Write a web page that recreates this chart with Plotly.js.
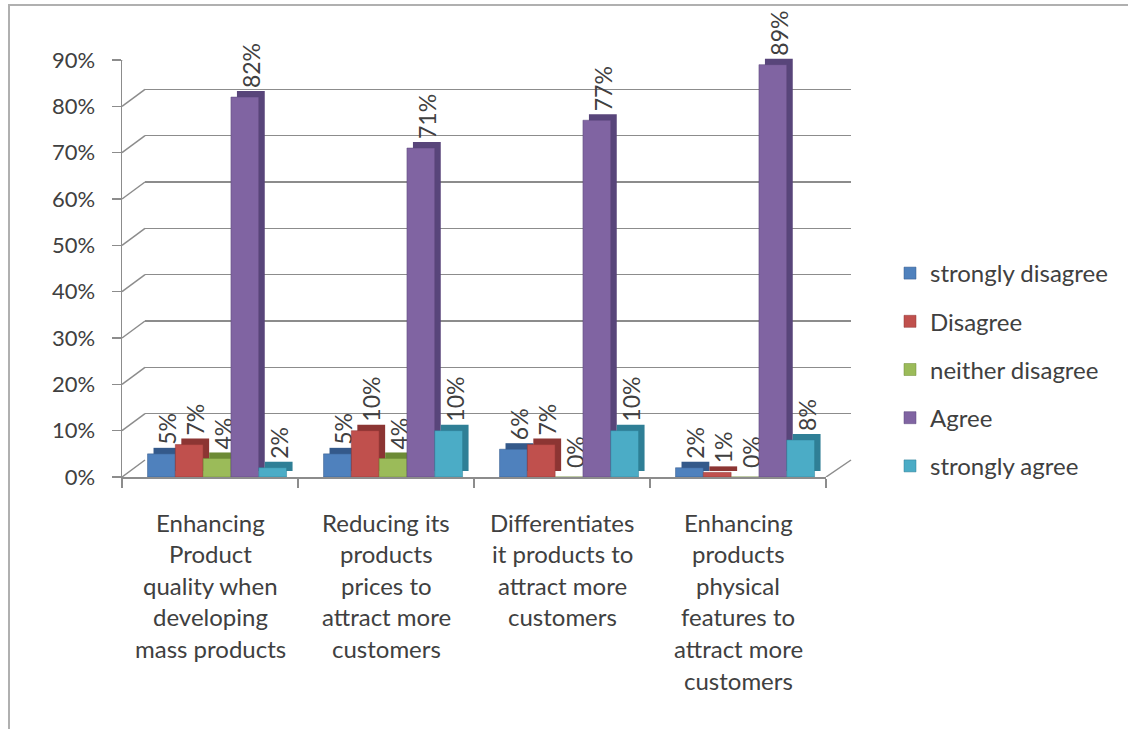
<!DOCTYPE html>
<html>
<head>
<meta charset="utf-8">
<script src="https://cdn.plot.ly/plotly-3.0.1.min.js"></script>
<style>
  html, body { margin:0; padding:0; width:1128px; height:729px; overflow:hidden; background:#fff; }
  #frame { position:absolute; left:8px; top:4px; width:1300px; height:900px; border-left:2px solid #b0b0b0; border-top:2px solid #b0b0b0; box-sizing:border-box; }
  #chart { position:absolute; left:0; top:0; width:1128px; height:729px; }
</style>
</head>
<body>
<div id="frame"></div>
<div id="chart"></div>
<script>
// ---- data ----
const categories = [
  "Enhancing<br>Product<br>quality when<br>developing<br>mass products",
  "Reducing its<br>products<br>prices to<br>attract more<br>customers",
  "Differentiates<br>it products to<br>attract more<br>customers",
  "Enhancing<br>products<br>physical<br>features to<br>attract more<br>customers"
];
const seriesNames = ["strongly disagree", "Disagree", "neither disagree", "Agree", "strongly agree"];
const stronglyDisagree = [0.05, 0.05, 0.06, 0.02];
const disagree         = [0.07, 0.10, 0.07, 0.01];
const neitherDisagree  = [0.04, 0.04, 0.00, 0.00];
const agree            = [0.82, 0.71, 0.77, 0.89];
const stronglyAgree    = [0.02, 0.10, 0.10, 0.08];
const yTicks = [0, 0.1, 0.2, 0.3, 0.4, 0.5, 0.6, 0.7, 0.8, 0.9];

// ---- styling ----
const colors = ["#4F81BD", "#C0504D", "#9BBB59", "#8064A2", "#4BACC6"];
const sides  = ["#34598A", "#8C3533", "#6C8A35", "#58457A", "#2F7F96"];
const FONT = "Lato, 'Open Sans', sans-serif";
const TXT = "#404040";
const GRID = "#8c8c8c";

const W = 1128, H = 729;
const plotL = 122, plotR = 851, plotT = 43, plotB = 477;
const pw = plotR - plotL, ph = plotB - plotT;
const depthX = 23, depthY = 17;
const barDepth = 6;
const frontXEnd = (pw - (plotR - 826)) / pw;
const frontYEnd = (plotB - 60) / ph;
const groupLeftPad = 0.145, barW = 0.158;

const idx = categories.map((c, i) => i);
const allSeries = [stronglyDisagree, disagree, neitherDisagree, agree, stronglyAgree];

const traces = [];
// back wall grid carrier (empty)
traces.push({ x: [], y: [], type: 'scatter', mode: 'markers', xaxis: 'x', yaxis: 'y', showlegend: false, hoverinfo: 'skip' });
// 3D depth faces (behind) carrying the value labels
allSeries.forEach((vals, k) => {
  traces.push({
    type: 'bar', x: idx, y: vals, xaxis: 'x2', yaxis: 'y2',
    width: barW, offset: -0.5 + groupLeftPad + k * barW,
    marker: { color: sides[k], line: { width: 0 } },
    texttemplate: '%{y:.0%}',
    textposition: 'outside',
    textangle: -90,
    constraintext: 'none',
    cliponaxis: false,
    textfont: { family: FONT, size: 23, color: TXT },
    showlegend: false, hoverinfo: 'skip'
  });
});
// front faces
allSeries.forEach((vals, k) => {
  traces.push({
    type: 'bar',
    name: seriesNames[k],
    x: idx, y: vals,
    xaxis: 'x3', yaxis: 'y3',
    width: barW, offset: -0.5 + groupLeftPad + k * barW,
    marker: { color: colors[k], line: { color: sides[k], width: 0.5 } },
    textposition: 'none',
    cliponaxis: false,
    legendgroup: 'g' + k,
    hoverinfo: 'skip'
  });
});

const shapes = [];
yTicks.forEach(v => {
  shapes.push({ type: 'line', xref: 'paper', xsizemode: 'pixel', xanchor: 0, x0: 0, x1: depthX,
    yref: 'y3', ysizemode: 'pixel', yanchor: v, y0: 0, y1: depthY,
    line: { color: GRID, width: 1.5 }, layer: 'below' });
});
shapes.push({ type: 'line', xref: 'paper', xsizemode: 'pixel', xanchor: frontXEnd, x0: 0, x1: depthX + 2,
  yref: 'y3', ysizemode: 'pixel', yanchor: 0, y0: 0, y1: depthY,
  line: { color: GRID, width: 1.5 }, layer: 'below' });

const annotations = [];
categories.forEach((c, i) => {
  c.split('<br>').forEach((line, j) => {
    annotations.push({
      xref: 'x3', yref: 'paper', x: i, y: 0,
      yanchor: 'middle', xanchor: 'center',
      yshift: -45 - 31.6 * j,
      text: line, showarrow: false,
      font: { family: FONT, size: 24, color: TXT }
    });
  });
});

const hidden = { showgrid: false, zeroline: false, showticklabels: false, ticks: '', showline: false, fixedrange: true };
const layout = {
  width: W, height: H,
  margin: { l: plotL, r: W - plotR, t: plotT, b: H - plotB, pad: 0 },
  paper_bgcolor: 'rgba(0,0,0,0)',
  plot_bgcolor: 'rgba(0,0,0,0)',
  font: { family: FONT, size: 23, color: TXT },
  barmode: 'group',
  showlegend: true,
  legend: {
    x: (890 - plotL) / pw, xanchor: 'left',
    y: (plotB - 251) / ph, yanchor: 'top',
    font: { family: FONT, size: 24, color: TXT },
    tracegroupgap: 14,
    bgcolor: 'rgba(0,0,0,0)'
  },
  xaxis: Object.assign({ domain: [depthX / pw, 1], range: [0, 1] }, hidden),
  yaxis: { domain: [depthY / ph, Math.min(1, frontYEnd + depthY / ph)], range: [0, 0.9], tickvals: yTicks, showgrid: true, gridcolor: GRID, gridwidth: 1.5, zeroline: false, showticklabels: false, ticks: '', showline: false, fixedrange: true },
  xaxis2: Object.assign({ domain: [barDepth / pw, frontXEnd + barDepth / pw], anchor: 'y2', type: 'linear', range: [-0.5, categories.length - 0.5] }, hidden),
  yaxis2: Object.assign({ domain: [barDepth / ph, frontYEnd + barDepth / ph], anchor: 'x2', range: [0, 0.9] }, hidden),
  xaxis3: { domain: [0, frontXEnd], anchor: 'y3', type: 'linear', range: [-0.5, categories.length - 0.5],
    tickvals: idx.map(i => i - 0.5).concat([categories.length - 0.5]), showticklabels: false,
    ticks: 'outside', ticklen: 9, tickcolor: GRID, tickwidth: 1.5,
    showline: true, linecolor: GRID, linewidth: 1.5, showgrid: false, zeroline: false, fixedrange: true },
  yaxis3: { domain: [0, frontYEnd], anchor: 'x3', range: [0, 0.9], tickvals: yTicks, tickformat: '.0%',
    ticks: 'outside', ticklen: 9, tickcolor: GRID, tickwidth: 1.5, ticklabelstandoff: 12,
    showline: true, linecolor: GRID, linewidth: 1.5, showgrid: false, zeroline: false,
    tickfont: { family: FONT, size: 22, color: TXT }, fixedrange: true },
  shapes: shapes,
  annotations: annotations
};

Plotly.newPlot('chart', traces, layout, { staticPlot: true, displayModeBar: false });
</script>
</body>
</html>
